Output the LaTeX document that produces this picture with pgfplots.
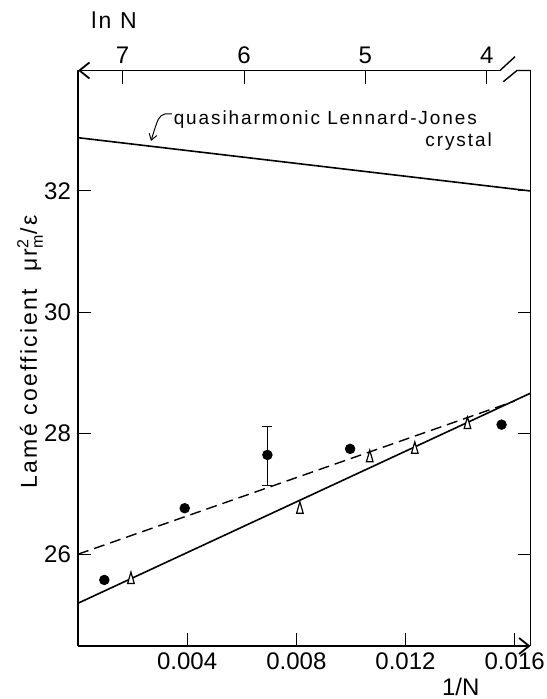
\documentclass[border=0pt]{standalone}
\usepackage{fontspec}
\setmainfont{Liberation Sans}
\newfontfamily\spaced{Liberation Sans}[LetterSpace=10]
\usepackage{pgfplots}
\pgfplotsset{compat=1.18}
\usetikzlibrary{arrows.meta}

\begin{document}
\begin{tikzpicture}
\useasboundingbox (-39pt,-26.5pt) rectangle (234pt,323pt);
% bottom axis: 1/N, left axis: Lame coefficient
\begin{axis}[
  name=main, at={(0,0)}, anchor=south west,
  scale only axis, width=226.25pt, height=287.75pt,
  xmin=0, xmax=0.01658, ymin=24.484, ymax=33.99,
  axis line style={draw=none},
  tick align=inside, xtick pos=bottom, ytick pos=both,
  xtick={0.004,0.008,0.012,0.016}, ytick={26,28,30,32},
  major tick length=6.5pt, tick style={black, line width=0.5pt},
  scaled x ticks=false,
  x tick label style={/pgf/number format/.cd, fixed, fixed zerofill, precision=3, /tikz/.cd},
  ticklabel style={font=\fontsize{12}{14}\selectfont},
  /pgf/number format/assume math mode=true,
  clip=false,
]
% quasiharmonic Lennard-Jones crystal
\addplot[black, line width=0.8pt] coordinates {(0,32.88) (0.01658,32.0)};
% fits
\addplot[black, line width=0.8pt] coordinates {(0,25.19) (0.01658,28.66)};
\addplot[black, line width=0.7pt, dash pattern=on 5.5pt off 3pt] coordinates {(0,26.0) (0.0160,28.53)};
% filled circles
\addplot[only marks, mark=*, mark size=2.4pt, black] coordinates {
  (0.000965,25.575) (0.00391,26.76) (0.00997,27.74) (0.01552,28.14)
};
\addplot[only marks, mark=*, mark size=2.4pt, black,
  error bars/.cd, y dir=both, y explicit,
  error bar style={line width=0.5pt},
  error mark options={rotate=90, mark size=2.5pt, black, line width=0.5pt}]
  coordinates {(0.00694,27.64) += (0,0.47) -= (0,0.50)};
% open triangles
\addplot[only marks, mark=triangle*, mark size=1.9pt,
  mark options={fill=white, draw=black, yscale=2, line width=0.6pt}] coordinates {
  (0.00194,25.58) (0.00813,26.74) (0.01069,27.59) (0.01234,27.73) (0.01427,28.14)
};
\node[anchor=west, font=\spaced\fontsize{9.5}{11}\selectfont] at (rel axis cs:0.196,0.914)
  {quasiharmonic Lennard-Jones};
\node[anchor=east, font=\spaced\fontsize{9.5}{11}\selectfont] at (rel axis cs:0.93,0.876)
  {crystal};
\draw[line width=0.5pt, -{Straight Barb[length=3pt,width=4pt]}] (rel axis cs:0.2077,0.9244) -- (rel axis cs:0.192,0.9244)
  .. controls (rel axis cs:0.178,0.92) .. (rel axis cs:0.1613,0.8775);
\node[rotate=90, anchor=base, font=\spaced\fontsize{11.5}{13}\selectfont] at (rel axis cs:-0.0906,0.511)
  {Lamé coefficient\ \ μr$^{\mbox{\fontsize{8}{8}\selectfont 2}}_{\mbox{\fontsize{8}{8}\selectfont m}}$/ε};
\node[font=\fontsize{12}{14}\selectfont] at (rel axis cs:0.846,-0.0712) {1/N};
\node[font=\spaced\fontsize{11.5}{13}\selectfont] at (rel axis cs:0.0796,1.088) {ln N};
\end{axis}
% top axis: ln N
\begin{axis}[
  at={(0,0)}, anchor=south west,
  scale only axis, width=226.25pt, height=287.75pt,
  xmin=3.639, xmax=7.368, x dir=reverse, ymin=0, ymax=1,
  axis line style={draw=none},
  tick align=inside, xtick pos=top, xticklabel pos=top, ytick=\empty,
  xtick={4,5,6,7}, major tick length=7pt, tick style={black, line width=0.5pt},
  ticklabel style={font=\fontsize{12}{14}\selectfont},
  /pgf/number format/assume math mode=true,
]
\end{axis}
% frame with arrows and axis break
\draw[line width=0.9pt] (0,0) -- (0,287.75pt);
\draw[line width=0.9pt] (226.25pt,0) -- (226.25pt,287.75pt);
\draw[line width=0.9pt, -{Straight Barb[length=5pt,width=8pt]}] (0,0) -- (226.25pt,0);
\draw[line width=0.9pt, -{Straight Barb[length=5pt,width=8pt]}] (211pt,287.75pt) -- (0,287.75pt);
\draw[line width=0.7pt] (211pt,287.75pt) -- (218.5pt,294.65pt);
\draw[line width=0.7pt] (212.65pt,282.15pt) -- (219.5pt,287.75pt) -- (226.25pt,287.75pt);
\end{tikzpicture}
\end{document}
